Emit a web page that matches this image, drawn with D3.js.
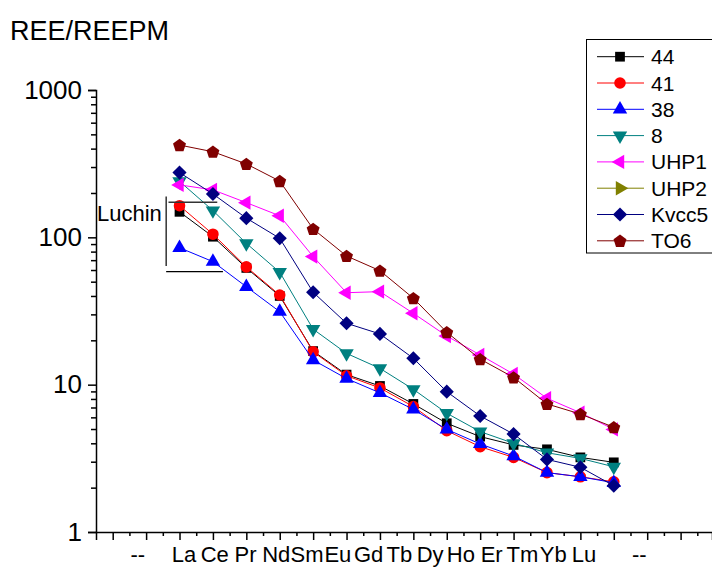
<!DOCTYPE html>
<html>
<head>
<meta charset="utf-8">
<script src="https://cdn.jsdelivr.net/npm/d3@7"></script>
<style>
  body { margin: 0; background: #fff; }
  text { font-family: "Liberation Sans", Arial, sans-serif; }
</style>
</head>
<body>
<div id="chart"></div>
<script>
// valores
var elementos = ["La","Ce","Pr","Nd","Sm","Eu","Gd","Tb","Dy","Ho","Er","Tm","Yb","Lu"];
var s44   = [149, 101, 62, 40, 16.9, 11.7, 9.8, 7.4, 5.47, 4.44, 3.9, 3.64, 3.21, 2.97];
var s41   = [164, 105, 63, 40.6, 16.7, 11.5, 9.5, 7.1, 4.87, 3.79, 3.21, 2.53, 2.37, 2.19];
var s38   = [85, 68.4, 46.2, 31.3, 14.7, 11.0, 8.8, 6.8, 4.97, 3.96, 3.28, 2.53, 2.37, 2.16];
var s8    = [240, 152, 91, 58, 23.8, 16.3, 12.9, 9.3, 6.4, 4.8, 4.0, 3.45, 3.16, 2.77];
var uhp1  = [227, 210, 172, 140, 74, 42.1, 42.8, 30.5, 21.4, 15.9, 11.8, 8.08, 6.45, 4.97];
var uhp2  = [];
var kvcc5 = [275, 197, 135, 98.5, 42.4, 26.1, 22.1, 15.1, 8.96, 6.13, 4.62, 3.11, 2.75, 2.06];
var to6   = [423, 381, 315, 241, 114, 74.7, 59.4, 38.6, 22.7, 14.9, 11.2, 7.4, 6.32, 5.14];
var nombres = ["44","41","38","8","UHP1","UHP2","Kvcc5","TO6"];
var yTicks = [1, 10, 100, 1000];

var series = [
  {name: nombres[0], vals: s44,   color: "#000000", sym: "square"},
  {name: nombres[1], vals: s41,   color: "#ff0000", sym: "circle"},
  {name: nombres[2], vals: s38,   color: "#0000ff", sym: "up"},
  {name: nombres[3], vals: s8,    color: "#008080", sym: "down"},
  {name: nombres[4], vals: uhp1,  color: "#ff00ff", sym: "left"},
  {name: nombres[5], vals: uhp2,  color: "#808000", sym: "right"},
  {name: nombres[6], vals: kvcc5, color: "#000080", sym: "diamond"},
  {name: nombres[7], vals: to6,   color: "#800000", sym: "pentagon"}
];

var W = 712, H = 569;
var svg = d3.select("#chart").append("svg").attr("width", W).attr("height", H);

var x = d3.scaleLinear().domain([-1.5, 16.94]).range([96, 712]);
var y = d3.scaleLog().domain([1, 1000]).range([532, 90]);
// las etiquetas de Origin quedan corridas respecto a los puntos
var xLab = d3.scaleLinear().domain([1, 14]).range([184, 584]);

function marker(sym) {
  var tri = d3.symbol().type(d3.symbolTriangle).size(90)();
  if (sym == "square") return {d: d3.symbol().type(d3.symbolSquare).size(95)(), rot: 0};
  if (sym == "circle") return {d: d3.symbol().type(d3.symbolCircle).size(105)(), rot: 0};
  if (sym == "up") return {d: tri, rot: 0};
  if (sym == "down") return {d: tri, rot: 180};
  if (sym == "left") return {d: tri, rot: -90};
  if (sym == "right") return {d: tri, rot: 90};
  if (sym == "diamond") return {d: d3.symbol().type(d3.symbolSquare).size(100)(), rot: 45};
  // pentagono
  var r = 6.8, pts = [];
  for (var i = 0; i < 5; i++) {
    var a = -Math.PI / 2 + i * 2 * Math.PI / 5;
    pts.push([r * Math.cos(a), r * Math.sin(a) + 0.6]);
  }
  return {d: "M" + pts.join("L") + "Z", rot: 0};
}

// eje Y
svg.append("g").attr("transform", "translate(96,0)")
  .call(d3.axisLeft(y).tickValues(yTicks).tickFormat(d3.format("d")).tickSize(8).tickPadding(6))
  .call(function(g){
    g.select(".domain").attr("stroke", "#000").attr("stroke-width", 1.5);
    g.selectAll(".tick line").attr("stroke-width", 1.5);
    g.selectAll("text").style("font-size", "26px").attr("fill", "#000");
  });
var minY = [];
[1, 10, 100].forEach(function(d){ for (var k = 2; k < 10; k++) minY.push(d * k); });
svg.append("g").attr("transform", "translate(96,0)")
  .call(d3.axisLeft(y).tickValues(minY).tickFormat("").tickSize(5))
  .call(function(g){ g.select(".domain").remove(); g.selectAll(".tick line").attr("stroke-width", 1.5); });

// eje X
svg.append("g").attr("transform", "translate(0,532)")
  .call(d3.axisBottom(x).tickValues(d3.range(-1, 17)).tickFormat("").tickSize(8))
  .call(function(g){
    g.select(".domain").attr("stroke", "#000").attr("stroke-width", 1.5);
    g.selectAll(".tick line").attr("stroke-width", 1.5);
  });
svg.append("g").attr("transform", "translate(0,532)")
  .call(d3.axisBottom(x).tickValues(d3.range(-0.5, 17, 1)).tickFormat("").tickSize(4))
  .call(function(g){ g.select(".domain").remove(); g.selectAll(".tick line").attr("stroke-width", 1.5); });

var etiquetas = ["--"].concat(elementos).concat(["--"]);
var posEtiq = [-0.5].concat(d3.range(1, 15)).concat([15.8]);
svg.append("g").selectAll("text").data(etiquetas).enter().append("text")
  .attr("x", function(d, i){ return xLab(posEtiq[i]); })
  .attr("y", 562)
  .attr("text-anchor", "middle")
  .style("font-size", "22px")
  .text(function(d){ return d; });

// titulo eje
svg.append("text").attr("x", 10).attr("y", 40).style("font-size", "27px").text("REE/REEPM");

// series
var line = d3.line()
  .defined(function(d){ return d != null; })
  .x(function(d, i){ return x(i + 1); })
  .y(function(d){ return y(d); });

series.forEach(function(s){
  var g = svg.append("g");
  g.append("path").attr("d", line(s.vals)).attr("fill", "none").attr("stroke", s.color).attr("stroke-width", 1);
  var m = marker(s.sym);
  g.selectAll("path.pt").data(s.vals).enter().append("path").attr("class", "pt")
    .attr("d", m.d)
    .attr("fill", s.color)
    .attr("transform", function(d, i){ return "translate(" + x(i + 1) + "," + y(d) + ") rotate(" + m.rot + ")"; });
});

// Luchin
svg.append("text").attr("x", 97).attr("y", 221).style("font-size", "22px").text("Luchin");
svg.append("line").attr("x1", x(0.6)).attr("x2", x(0.6)).attr("y1", y(189)).attr("y2", y(64))
  .attr("stroke", "#000").attr("stroke-width", 1.2);
svg.append("line").attr("x1", x(0.67)).attr("x2", x(2.13)).attr("y1", y(173)).attr("y2", y(173))
  .attr("stroke", "#333").attr("stroke-width", 1.5);
svg.append("line").attr("x1", x(0.6)).attr("x2", x(2.3)).attr("y1", y(58.5)).attr("y2", y(58.5))
  .attr("stroke", "#000").attr("stroke-width", 1.2);

// leyenda
var leg = svg.append("g");
leg.append("rect").attr("x", 586.5).attr("y", 39.5).attr("width", 140).attr("height", 213.5)
  .attr("fill", "none").attr("stroke", "#000").attr("stroke-width", 1);
series.forEach(function(s, i){
  var yy = 56.7 + i * 26.3;
  leg.append("line").attr("x1", 597).attr("x2", 644).attr("y1", yy).attr("y2", yy)
    .attr("stroke", s.color).attr("stroke-width", 1);
  var m = marker(s.sym);
  leg.append("path").attr("d", m.d).attr("fill", s.color)
    .attr("transform", "translate(620," + yy + ") rotate(" + m.rot + ")");
  leg.append("text").attr("x", 651).attr("y", yy + 7.5).style("font-size", "21px").text(s.name);
});
</script>
</body>
</html>
